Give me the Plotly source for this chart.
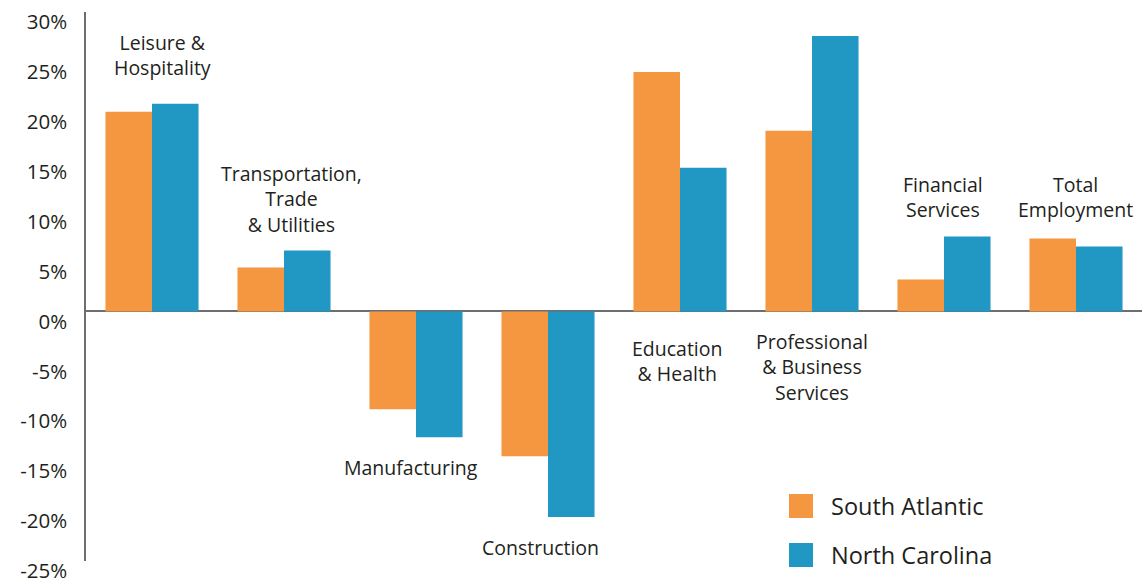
import plotly.graph_objects as go

# Employment change by sector, percent
categories = [
    "Leisure & Hospitality",
    "Transportation, Trade & Utilities",
    "Manufacturing",
    "Construction",
    "Education & Health",
    "Professional & Business Services",
    "Financial Services",
    "Total Employment",
]
south_atlantic = [20.0, 4.4, -9.8, -14.5, 24.0, 18.1, 3.2, 7.3]
north_carolina = [20.8, 6.1, -12.6, -20.6, 14.4, 27.6, 7.5, 6.5]
series_names = ["South Atlantic", "North Carolina"]
tick_values = [30, 25, 20, 15, 10, 5, 0, -5, -10, -15, -20, -25]
tick_labels = ["30%", "25%", "20%", "15%", "10%", "5%", "0%",
               "-5%", "-10%", "-15%", "-20%", "-25%"]

ORANGE = "#F59641"
BLUE = "#2197C3"
TEXT = "#231F20"
AXIS = "#6D6E71"
FONT = "Open Sans"

W, H = 1147, 580
ML, MR, MT, MB = 86, 5, 12, 19
Y_RANGE = (-25, 30)
plot_w = W - ML - MR
plot_h = H - MT - MB


def px_x(px):
    return (px - ML) / plot_w


def px_y(py):
    return (H - MB - py) / plot_h


def data_y(py):
    return Y_RANGE[1] - (py - MT) / plot_h * (Y_RANGE[1] - Y_RANGE[0])


fig = go.Figure()
fig.add_trace(go.Bar(x=categories, y=south_atlantic, name=series_names[0],
                     marker=dict(color=ORANGE, line=dict(width=0))))
fig.add_trace(go.Bar(x=categories, y=north_carolina, name=series_names[1],
                     marker=dict(color=BLUE, line=dict(width=0))))

# Category captions placed near each bar pair (x offset in px, centre y in px)
captions = [
    (0, 10, "Leisure &<br>Hospitality", 55),
    (1, 7.5, "Transportation,<br>Trade<br>& Utilities", 199),
    (2, -5.5, "Manufacturing", 467),
    (3, -7.5, "Construction", 547),
    (4, -3, "Education<br>& Health", 361),
    (5, 0, "Professional<br>& Business<br>Services", 367),
    (6, -1, "Financial<br>Services", 197),
    (7, -0.5, "Total<br>Employment", 197),
]
annotations = []
for idx, dx, text, py in captions:
    annotations.append(dict(
        x=categories[idx], y=data_y(py), xref="x", yref="y",
        xshift=dx, text=text, showarrow=False,
        xanchor="center", yanchor="middle", align="center",
        font=dict(family=FONT, size=19.5, color=TEXT),
    ))

# Custom legend: large colour swatches with series names
shapes = []
for name, color, top in zip(series_names, [ORANGE, BLUE], [494, 543]):
    shapes.append(dict(type="rect", xref="paper", yref="paper",
                       x0=px_x(789), x1=px_x(813), y0=px_y(top + 24), y1=px_y(top),
                       fillcolor=color, line=dict(width=0)))
    annotations.append(dict(x=px_x(829), y=px_y(top + 12), xref="paper", yref="paper",
                            text=name, showarrow=False, xanchor="left", yanchor="middle",
                            font=dict(family=FONT, size=23.5, color=TEXT)))

fig.update_layout(
    width=W, height=H,
    margin=dict(l=ML, r=MR, t=MT, b=MB, pad=0, autoexpand=False),
    paper_bgcolor="white", plot_bgcolor="white",
    barmode="group", bargap=0.295, bargroupgap=0,
    showlegend=False,
    font=dict(family=FONT, color=TEXT),
    annotations=annotations,
    shapes=shapes,
    xaxis=dict(showticklabels=False, showgrid=False, showline=False,
               zeroline=False, ticks="", range=[-0.5, 7.5], automargin=False),
    yaxis=dict(range=list(Y_RANGE), tickmode="array", tickvals=tick_values,
               ticktext=tick_labels, automargin=False,
               showgrid=False, showline=True, linecolor=AXIS, linewidth=1.5,
               zeroline=True, zerolinecolor=AXIS, zerolinewidth=2,
               ticks="", ticklabelstandoff=13, ticklabelshift=10,
               ticklabeloverflow="allow",
               tickfont=dict(family=FONT, size=20.5, color=TEXT)),
)

fig.write_html("out.html")
